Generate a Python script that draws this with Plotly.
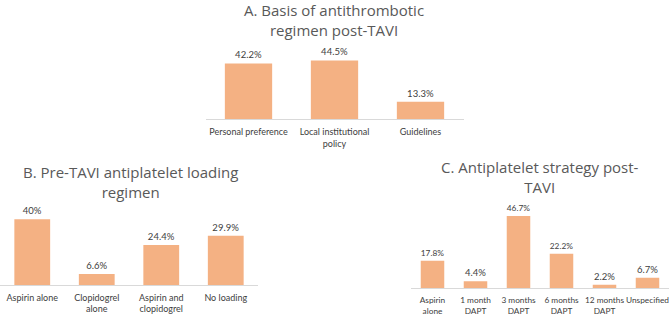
import plotly.graph_objects as go

# ---- data ----
a_categories = ["Personal preference", "Local institutional<br>policy", "Guidelines"]
a_values = [42.2, 44.5, 13.3]
a_title = ["A. Basis of antithrombotic", "regimen post-TAVI"]

b_categories = ["Aspirin alone", "Clopidogrel<br>alone", "Aspirin and<br>clopidogrel", "No loading"]
b_values = [40, 6.6, 24.4, 29.9]
b_title = ["B. Pre-TAVI antiplatelet loading", "regimen"]

c_categories = ["Aspirin<br>alone", "1 month<br>DAPT", "3 months<br>DAPT", "6 months<br>DAPT",
                "12 months<br>DAPT", "Unspecified"]
c_values = [17.8, 4.4, 46.7, 22.2, 2.2, 6.7]
c_title = ["C. Antiplatelet strategy post-", "TAVI"]

# ---- style ----
W, H = 669, 316
BAR = "#F4B183"
TXT = "#404040"
TITLE = "#595959"
FONT = "Lato"
TFONT = "Open Sans"


def px_x(x):
    return x / W


def px_y(y):
    return (H - y) / H


panels = [
    # categories, values, title, x-domain px, baseline px, px per unit, y max, bar width, title x px, title center y px, tick size
    (a_categories, a_values, a_title, (205.5, 463.5), 120, 1.33, 50, 0.55, 334, 20, 9),
    (b_categories, b_values, b_title, (0, 258), 286.7, 1.65, 45, 0.555, 130, 183, 9),
    (c_categories, c_values, c_title, (411, 669), 290, 1.555, 50, 0.547, 540, 178.5, 8.3),
]

fig = go.Figure()
layout = {}
annotations = []
for i, (cats, vals, title, xd, base, ppu, ymax, bw, tx, ty, ts) in enumerate(panels):
    n = i + 1
    xa = "x" if n == 1 else f"x{n}"
    ya = "y" if n == 1 else f"y{n}"
    idx = list(range(len(cats)))
    fig.add_trace(go.Bar(
        x=idx, y=vals, xaxis=xa, yaxis=ya,
        marker=dict(color=BAR, line=dict(width=0)),
        width=bw,
        text=[f"{v:g}%" for v in vals],
        textposition="outside",
        textfont=dict(family=FONT, size=9.5, color=TXT),
        cliponaxis=False,
        showlegend=False,
        hoverinfo="skip",
    ))
    top = base - ppu * ymax
    layout[f"xaxis{'' if n == 1 else n}"] = dict(
        domain=[px_x(xd[0]), px_x(xd[1])],
        range=[-0.5, len(cats) - 0.5],
        anchor=ya,
        tickmode="array", tickvals=idx, ticktext=cats,
        tickangle=0,
        ticklabeloverflow="allow",
        ticklabelstandoff=4,
        tickfont=dict(family=FONT, size=ts, color=TXT),
        showline=True, linecolor="#D9D9D9", linewidth=1,
        showgrid=False, zeroline=False, ticks="",
        fixedrange=True,
    )
    layout[f"yaxis{'' if n == 1 else n}"] = dict(
        domain=[px_y(base), px_y(top)],
        range=[0, ymax],
        anchor=xa,
        visible=False,
        fixedrange=True,
    )
    annotations.append(dict(
        text="<br>".join(title), x=px_x(tx), y=px_y(ty), xref="paper", yref="paper",
        xanchor="center", yanchor="middle", showarrow=False, align="center",
        borderpad=0,
        font=dict(family=TFONT, size=15, color=TITLE),
    ))

fig.update_layout(
    width=W, height=H,
    margin=dict(l=0, r=0, t=0, b=0),
    paper_bgcolor="white", plot_bgcolor="white",
    annotations=annotations,
    **layout,
)

fig.write_html(
    "out.html",
    config={"displayModeBar": False},
    post_script="document.body.style.margin='0';document.body.style.padding='0';",
)
